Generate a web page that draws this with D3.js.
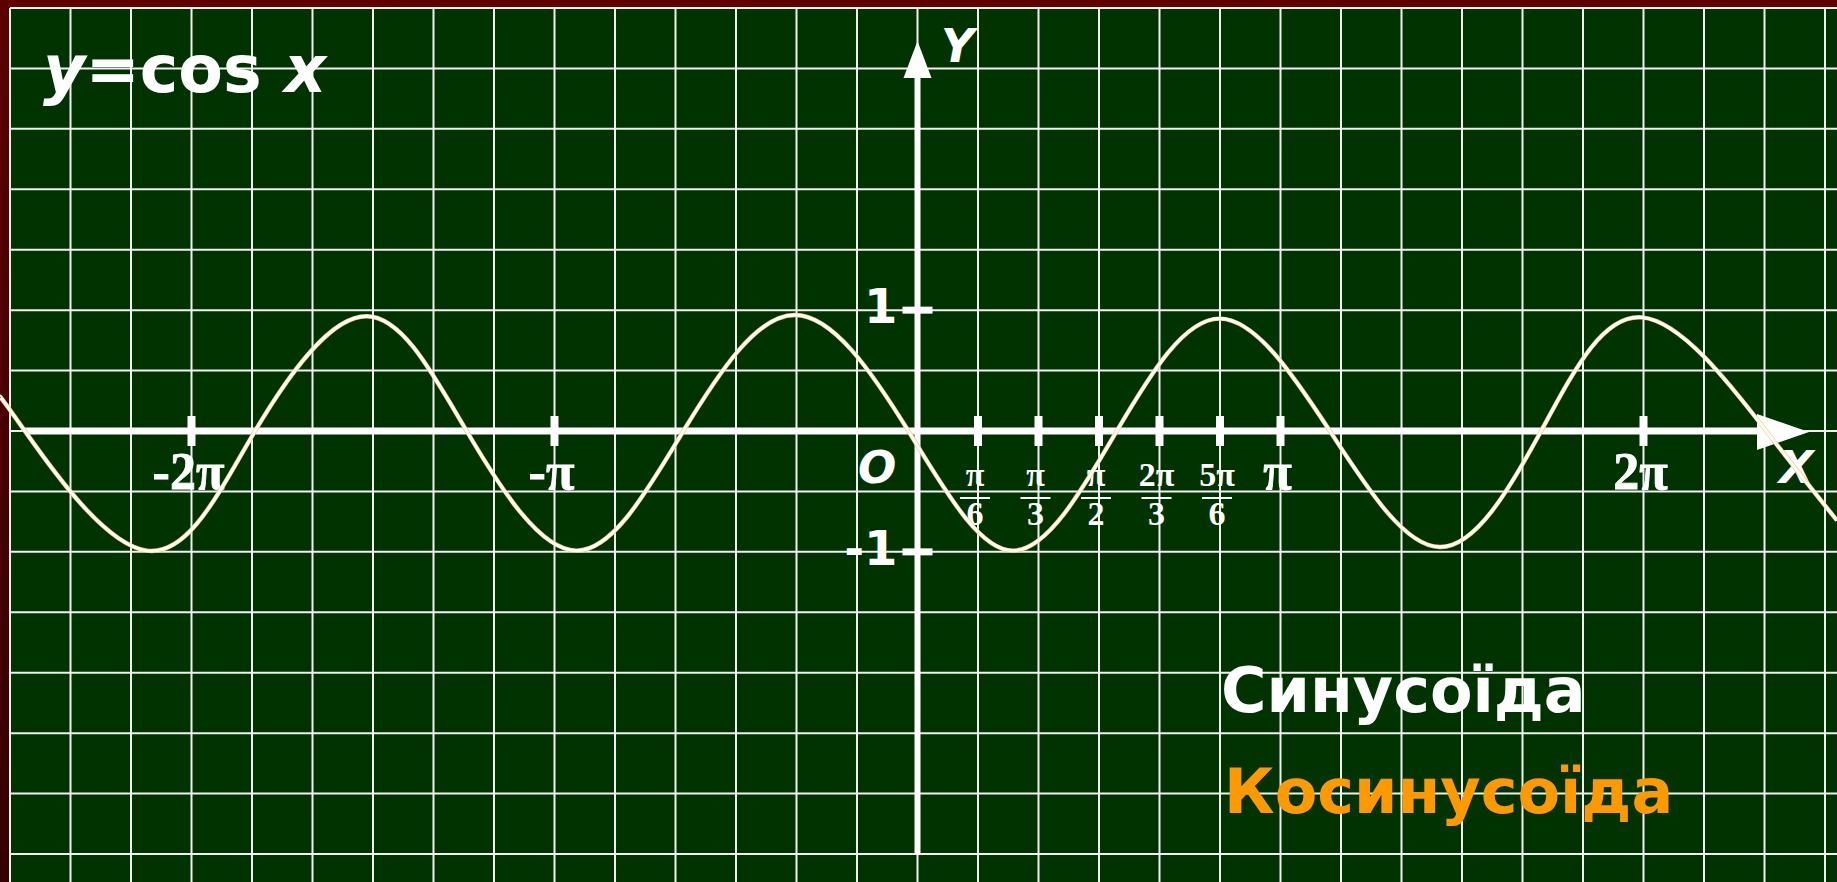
<!DOCTYPE html>
<html>
<head>
<meta charset="utf-8">
<title>y=cos x</title>
<script src="https://cdn.jsdelivr.net/npm/d3@7/dist/d3.min.js"></script>
<style>
  html, body { margin: 0; padding: 0; background: #5c0000; overflow: hidden; }
  svg { display: block; }
</style>
</head>
<body>
<script>
var width = 1837, height = 882;

// curve (ends, zeros, peaks, troughs):
// x in multiples of pi, y in units
var curveX = [-2.528, -2.459, -2.123, -1.825, -1.517, -1.242, -0.939, -0.645, -0.338, -0.025,
              0.264, 0.549, 0.833, 1.136, 1.439, 1.718, 1.996, 2.338, 2.533];
var curveY = [0.28, 0, -0.99, 0, 0.95, 0, -0.99, 0, 0.96, 0,
              -0.99, 0, 0.93, 0, -0.96, 0, 0.94, 0, -0.74];

// x ticks (multiples of pi)
var bigTicks = [-2, -1, 1, 2];
var bigTickLabels = ["-2\u03c0", "-\u03c0", "\u03c0", "2\u03c0"];
var fracTicks = [1/6, 1/3, 1/2, 2/3, 5/6];
var fracNum = ["\u03c0", "\u03c0", "\u03c0", "2\u03c0", "5\u03c0"];
var fracDen = ["6", "3", "2", "3", "6"];

// y ticks
var yTicks = [1, -1];
var yTickLabels = ["1", "-1"];

// grid steps
var gridX = d3.range(-15, 16).map(function(k) { return k / 6; });
var gridY = d3.range(-7, 8).map(function(k) { return k / 2; });

var x = d3.scaleLinear().domain([-2.5, 2.5]).range([10, 1825]);
var y = d3.scaleLinear().domain([-3.5, 3.5]).range([854, 8]);

var svg = d3.select("body").append("svg")
  .attr("width", width)
  .attr("height", height);

var defs = svg.append("defs");
var grad = defs.append("linearGradient").attr("id", "edge")
  .attr("x1", 0).attr("y1", 0).attr("x2", 0).attr("y2", 1);
grad.append("stop").attr("offset", "0%").attr("stop-color", "#5e0000");
grad.append("stop").attr("offset", "100%").attr("stop-color", "#360000");

// frame + board
svg.append("rect").attr("width", width).attr("height", height).attr("fill", "#620000");
svg.append("rect").attr("width", 10).attr("height", height).attr("fill", "url(#edge)");
svg.append("rect").attr("x", 10).attr("y", 8)
  .attr("width", width - 10).attr("height", height - 8).attr("fill", "#003300");

// grid
var grid = svg.append("g").attr("stroke", "#f0f0f0").attr("stroke-width", 2);
grid.selectAll(".gx").data(gridX).enter().append("line")
  .attr("x1", d => x(d)).attr("x2", d => x(d))
  .attr("y1", 8).attr("y2", height);
grid.selectAll(".gy").data(gridY).enter().append("line")
  .attr("x1", 10).attr("x2", width)
  .attr("y1", d => y(d)).attr("y2", d => y(d));

// axes
var x0 = x(0), y0 = y(0);
svg.append("line").attr("x1", 25).attr("x2", 1760).attr("y1", y0).attr("y2", y0)
  .attr("stroke", "#fff").attr("stroke-width", 7);
svg.append("path").attr("d", "M1757," + (y0 - 17) + "L1809," + (y0 + 1) + "L1757," + (y0 + 19) + "Z")
  .attr("fill", "#fff");
svg.append("line").attr("x1", x0).attr("x2", x0).attr("y1", 76).attr("y2", 855)
  .attr("stroke", "#fff").attr("stroke-width", 6);
svg.append("path").attr("d", "M" + (x0 - 14) + ",78L" + x0 + ",41L" + (x0 + 14) + ",78Z")
  .attr("fill", "#fff");

// x tick marks
svg.selectAll(".xt").data(bigTicks.concat(fracTicks)).enter().append("line")
  .attr("x1", d => x(d)).attr("x2", d => x(d))
  .attr("y1", y0 - 15).attr("y2", y0 + 15)
  .attr("stroke", "#fff").attr("stroke-width", 8);

// y tick marks
svg.selectAll(".yt").data(yTicks).enter().append("line")
  .attr("x1", x0 - 15).attr("x2", x0 + 15)
  .attr("y1", d => y(d)).attr("y2", d => y(d))
  .attr("stroke", "#fff").attr("stroke-width", 7);

var serif = "'Liberation Serif', 'Times New Roman', serif";
var sans = "'DejaVu Sans', Verdana, sans-serif";

// x tick labels
svg.selectAll(".xl").data(bigTicks).enter().append("text")
  .attr("x", d => x(d) - 3).attr("y", y0 + 58)
  .attr("text-anchor", "middle")
  .attr("font-family", serif).attr("font-weight", "bold").attr("font-size", 52)
  .attr("stroke", "#fff").attr("stroke-width", 0.8)
  .attr("fill", "#fff")
  .text((d, i) => bigTickLabels[i]);

var frac = svg.selectAll(".fr").data(fracTicks).enter().append("g")
  .attr("transform", d => "translate(" + (x(d) - 3) + "," + y0 + ")");
frac.append("text").attr("y", 55).attr("text-anchor", "middle")
  .attr("font-family", serif).attr("font-weight", "bold").attr("font-size", 34)
  .attr("fill", "#fff").text((d, i) => fracNum[i]);
frac.append("line").attr("x1", -15).attr("x2", 15).attr("y1", 67).attr("y2", 67)
  .attr("stroke", "#fff").attr("stroke-width", 2);
frac.append("text").attr("y", 94).attr("text-anchor", "middle")
  .attr("font-family", serif).attr("font-weight", "bold").attr("font-size", 34)
  .attr("fill", "#fff").text((d, i) => fracDen[i]);

// y tick labels
svg.selectAll(".yl").data(yTicks).enter().append("text")
  .attr("x", x0 - 20).attr("y", d => y(d) + 13)
  .attr("text-anchor", "end")
  .attr("font-family", sans).attr("font-weight", "bold").attr("font-size", 48)
  .attr("fill", "#fff")
  .text((d, i) => yTickLabels[i]);

// axis names
function italicLabel(tx, ty, size, str) {
  svg.append("text").attr("x", tx).attr("y", ty)
    .attr("font-family", sans).attr("font-weight", "bold").attr("font-style", "italic")
    .attr("font-size", size).attr("fill", "#fff").text(str);
}
italicLabel(941, 62, 46, "Y");
italicLabel(1779, 483, 45, "X");
italicLabel(858, 483, 45, "O");

// title
var title = svg.append("text").attr("x", 43).attr("y", 92)
  .attr("font-family", sans).attr("font-weight", "bold").attr("font-size", 65)
  .attr("fill", "#fff");
title.append("tspan").attr("font-style", "italic").text("y");
title.append("tspan").text("=cos ");
title.append("tspan").attr("font-style", "italic").text("x");

svg.append("text").attr("x", 1221).attr("y", 712)
  .attr("font-family", sans).attr("font-weight", "bold").attr("font-size", 62)
  .attr("fill", "#fff").text("Синусоїда");
svg.append("text").attr("x", 1224).attr("y", 813)
  .attr("font-family", sans).attr("font-weight", "bold").attr("font-size", 62)
  .attr("fill", "#ff9900").text("Косинусоїда");

// the curve
var pts = curveX.map((d, i) => [d, curveY[i]]);
var line = d3.line().x(d => x(d[0])).y(d => y(d[1])).curve(d3.curveNatural);
svg.append("path").attr("d", line(pts))
  .attr("fill", "none").attr("stroke", "#f3c98c").attr("stroke-width", 4.4);
svg.append("path").attr("d", line(pts))
  .attr("fill", "none").attr("stroke", "#fffef6").attr("stroke-width", 3);
</script>
</body>
</html>
